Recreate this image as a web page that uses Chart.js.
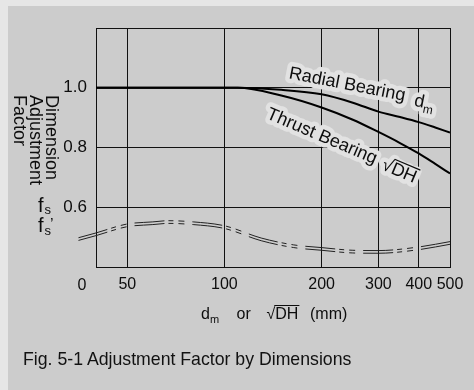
<!DOCTYPE html>
<html>
<head>
<meta charset="utf-8">
<script src="https://cdn.jsdelivr.net/npm/chart.js@4/dist/chart.umd.min.js"></script>
<style>
  html, body { margin: 0; padding: 0; }
  body { width: 474px; height: 390px; background: #e6e6e6; position: relative; overflow: hidden; font-family: "Liberation Sans", Arial, sans-serif; }
  #panel { position: absolute; left: 8px; top: 6px; right: 0; bottom: 0; background: #cccccc; }
  #chart { position: absolute; left: 0; top: 0; }
  #caption { position: absolute; left: 23px; top: 349px; font-size: 17.7px; color: #111; white-space: nowrap; }
</style>
</head>
<body>
<div id="panel"></div>
<canvas id="chart" width="474" height="390"></canvas>
<div id="caption">Fig. 5-1 Adjustment Factor by Dimensions</div>
<script>
// ---- data ----
const sizes = [40, 50, 100, 110, 150, 200, 250, 300, 350, 400, 450, 500];
const radialFactor = [1, 1, 1, 1, 0.993, 0.978, 0.95, 0.92, 0.902, 0.885, 0.867, 0.85];
const thrustFactor = [1, 1, 1, 1, 0.974, 0.934, 0.893, 0.852, 0.815, 0.78, 0.745, 0.713];

const waveSizes = [35.3, 40, 50, 60, 67, 80, 100, 130, 164, 200, 250, 300, 400, 500, 551];
const waveUpper = [0.498, 0.514, 0.544, 0.551, 0.555, 0.551, 0.538, 0.497, 0.474, 0.465, 0.456, 0.455, 0.467, 0.485, 0.493];
const waveLower = [0.489, 0.505, 0.535, 0.542, 0.546, 0.542, 0.529, 0.488, 0.465, 0.456, 0.447, 0.446, 0.458, 0.476, 0.484];

const xTicks = [50, 100, 200, 300, 400, 500];
const yTickLabels = [0.6, 0.8, 1.0];
const xMin = 40, xMax = 500, yMin = 0.4, yMax = 1.2;

const FONT = '"Liberation Sans", Arial, sans-serif';
const INK = '#0d0d0d';

function pts(xs, ys) { return xs.map((x, i) => ({ x: x, y: ys[i] })); }

const waveStyle = {
  borderColor: '#222', borderWidth: 1, pointRadius: 0,
  borderDash: [30, 4, 5, 5, 6, 8], clip: false,
  cubicInterpolationMode: 'monotone', fill: false
};

const textPlugin = {
  id: 'texts',
  afterDraw(chart) {
    const ctx = chart.ctx;
    const halo = '#e2e2e2';
    function haloText(t, x, y, font) {
      ctx.font = font;
      ctx.lineJoin = 'round';
      ctx.strokeStyle = halo;
      ctx.lineWidth = 9;
      ctx.strokeText(t, x, y);
    }
    ctx.save();
    ctx.textBaseline = 'alphabetic';
    ctx.textAlign = 'left';

    // Radial Bearing d_m
    ctx.save();
    ctx.translate(288.3, 78.3);
    ctx.rotate(11 * Math.PI / 180);
    haloText('Radial Bearing', 0, 0, '18px ' + FONT);
    haloText('d', 128, 3, '18px ' + FONT);
    haloText('m', 138, 8, '12px ' + FONT);
    ctx.fillStyle = INK;
    ctx.font = '18px ' + FONT;
    ctx.fillText('Radial Bearing', 0, 0);
    ctx.fillText('d', 128, 3);
    ctx.font = '12px ' + FONT;
    ctx.fillText('m', 138, 8);
    ctx.restore();

    // Thrust Bearing sqrt(DH)
    ctx.save();
    ctx.translate(265.6, 118);
    ctx.rotate(23 * Math.PI / 180);
    haloText('Thrust Bearing', 0, 0, '18px ' + FONT);
    haloText('\u221ADH', 126, 2, '18px ' + FONT);
    ctx.fillStyle = INK;
    ctx.font = '18px ' + FONT;
    ctx.fillText('Thrust Bearing', 0, 0);
    ctx.fillText('\u221A', 126, 2);
    const sw = ctx.measureText('\u221A').width;
    ctx.fillText('DH', 126 + sw, 2);
    const dw = ctx.measureText('DH').width;
    ctx.strokeStyle = INK; ctx.lineWidth = 1.2;
    ctx.beginPath(); ctx.moveTo(126 + sw - 1, 2 - 14.5); ctx.lineTo(126 + sw + dw + 1, 2 - 14.5); ctx.stroke();
    ctx.restore();

    // y axis title (rotated)
    ctx.save();
    ctx.translate(46, 95);
    ctx.rotate(Math.PI / 2);
    ctx.fillStyle = INK;
    ctx.font = '18px ' + FONT;
    ctx.fillText('Dimension', 0, 0);
    ctx.fillText('Adjustment', 0, 16);
    ctx.fillText('Factor', 0, 32);
    ctx.restore();

    // f_s and f_s'
    ctx.fillStyle = INK;
    ctx.font = '20px ' + FONT;
    ctx.fillText('f', 38, 211.5);
    ctx.fillText('f', 38, 232);
    ctx.font = '13px ' + FONT;
    ctx.fillText('s', 44.5, 213.5);
    ctx.fillText('s', 44.5, 235);
    ctx.font = '16px ' + FONT;
    ctx.fillText('\u2019', 50, 230);

    // "0" at left end of x axis
    ctx.font = '16px ' + FONT;
    ctx.textAlign = 'center';
    ctx.fillText('0', 82, 290);
    ctx.textAlign = 'left';

    // x axis title: d_m  or  sqrt(DH) (mm)
    ctx.font = '16px ' + FONT;
    ctx.fillText('d', 201, 319);
    ctx.font = '11px ' + FONT;
    ctx.fillText('m', 210, 323);
    ctx.font = '16px ' + FONT;
    ctx.fillText('or', 236.5, 319);
    ctx.fillText('\u221A', 266.5, 319);
    const s2 = ctx.measureText('\u221A').width;
    ctx.fillText('DH', 266.5 + s2, 319);
    const d2 = ctx.measureText('DH').width;
    ctx.strokeStyle = INK; ctx.lineWidth = 1;
    ctx.beginPath(); ctx.moveTo(266.5 + s2 - 1, 305.5); ctx.lineTo(266.5 + s2 + d2 + 1, 305.5); ctx.stroke();
    ctx.fillText('(mm)', 310, 319);
    ctx.restore();
  }
};

new Chart(document.getElementById('chart'), {
  type: 'line',
  data: {
    datasets: [
      Object.assign({ data: pts(waveSizes, waveUpper) }, waveStyle),
      Object.assign({ data: pts(waveSizes, waveLower) }, waveStyle),
      { data: pts(sizes, radialFactor), borderColor: '#000', borderWidth: 2, pointRadius: 0, cubicInterpolationMode: 'monotone', fill: false },
      { data: pts(sizes, thrustFactor), borderColor: '#000', borderWidth: 2, pointRadius: 0, cubicInterpolationMode: 'monotone', fill: false }
    ]
  },
  options: {
    responsive: false,
    animation: false,
    devicePixelRatio: 1,
    layout: { padding: { left: 0, top: 28, right: 24, bottom: 0 } },
    plugins: { legend: { display: false }, tooltip: { enabled: false } },
    scales: {
      x: {
        type: 'logarithmic', min: xMin, max: xMax,
        afterBuildTicks(scale) { scale.ticks = xTicks.map(v => ({ value: v })); },
        afterFit(scale) { scale.height = 123; scale.paddingLeft = 0; scale.paddingRight = 0; },
        ticks: {
          autoSkip: false, maxRotation: 0, padding: 8, color: INK,
          font: { family: FONT, size: 16 },
          callback: (v) => xTicks.includes(v) ? String(v) : ''
        },
        grid: { color: '#111', lineWidth: 1, drawTicks: false },
        border: { color: '#111', width: 1 }
      },
      y: {
        min: yMin, max: yMax,
        ticks: {
          stepSize: 0.2, padding: 9, color: INK,
          font: { family: FONT, size: 17 },
          callback: (v) => {
            const r = Math.round(v * 10) / 10;
            return yTickLabels.includes(r) ? r.toFixed(1) : '';
          }
        },
        afterFit(scale) { scale.width = 96; scale.paddingTop = 0; scale.paddingBottom = 0; },
        grid: { color: '#111', lineWidth: 1, drawTicks: false },
        border: { color: '#111', width: 1 }
      }
    }
  },
  plugins: [textPlugin]
});
</script>
</body>
</html>
